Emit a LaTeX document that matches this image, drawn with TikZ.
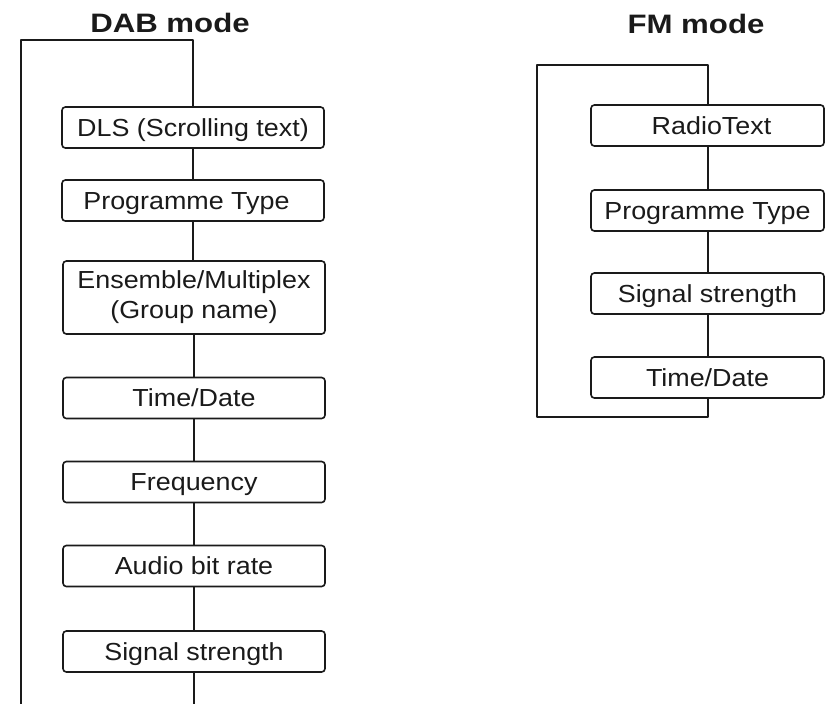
\documentclass[tikz,border=0pt]{standalone}
\usepackage{fontspec}
\setmainfont[FakeStretch=1.09]{Liberation Sans}
\newfontfamily\titlefont[FakeStretch=1.17]{Liberation Sans}
\definecolor{ink}{HTML}{1A1A1A}
\begin{document}
\begin{tikzpicture}[x=0.75pt,y=-0.75pt,line join=round,
  boxbase/.style={draw=ink,line width=1.2pt,rounded corners=2.5pt,inner sep=0pt,
    text=ink,font=\fontsize{18.5}{22.5}\selectfont,align=center},
  dabbox/.style={boxbase,minimum width=196.5pt,minimum height=30.75pt,text height=13.25pt,text depth=0pt},
  dabtall/.style={boxbase,minimum width=196.5pt,minimum height=54.75pt},
  fmbox/.style={boxbase,minimum width=174.75pt,minimum height=30.75pt,text height=13.25pt,text depth=0pt},
  link/.style={draw=ink,line width=1.5pt},
  titletext/.style={anchor=base,inner sep=0pt,text=ink,font=\titlefont\bfseries\fontsize{20}{24}\selectfont}]
\useasboundingbox (0,0) rectangle (825,704);
% titles
\node[titletext] (dabtitle) at (170,32) {DAB mode};
\node[titletext] (fmtitle) at (696,33) {FM mode};
% DAB boxes
\node[dabbox] (dls) at (193,127.5) {DLS (Scrolling text)};
\node[dabbox] (dpt) at (193,200.5) {\hspace*{-9.8pt}Programme Type};
\node[dabtall] (ens) at (194,297.5) {Ensemble/Multiplex\\(Group name)};
\node[dabbox] (dtd) at (194,398) {Time/Date};
\node[dabbox] (frq) at (194,482) {Frequency};
\node[dabbox] (abr) at (194,566) {Audio bit rate};
\node[dabbox] (dss) at (194,651.5) {Signal strength};
\coordinate (dabTL) at (21,40);
\coordinate (dabBL) at (21,704);
\coordinate (dabBR) at (193,704);
\draw[link] (dls.north) |- (dabTL) -- (dabBL);
\draw[link] (dls.south) -- (dpt.north);
\draw[link] (dpt.south) -- (ens.north -| dpt.south);
\draw[link] (ens.south) -- (dtd.north);
\draw[link] (dtd.south) -- (frq.north);
\draw[link] (frq.south) -- (abr.north);
\draw[link] (abr.south) -- (dss.north);
\draw[link] (dss.south) -- (dabBR -| dss.south);
% FM boxes
\node[fmbox] (rt) at (707.5,125.5) {\hspace*{6pt}RadioText};
\node[fmbox] (fpt) at (707.5,210.5) {Programme Type};
\node[fmbox] (fss) at (707.5,293.5) {Signal strength};
\node[fmbox] (ftd) at (707.5,377.5) {Time/Date};
\coordinate (fmTL) at (537,65);
\coordinate (fmBL) at (537,417);
\draw[link] (rt.north) |- (fmTL) -- (fmBL) -| (ftd.south);
\draw[link] (rt.south) -- (fpt.north);
\draw[link] (fpt.south) -- (fss.north);
\draw[link] (fss.south) -- (ftd.north);
\end{tikzpicture}
\end{document}
